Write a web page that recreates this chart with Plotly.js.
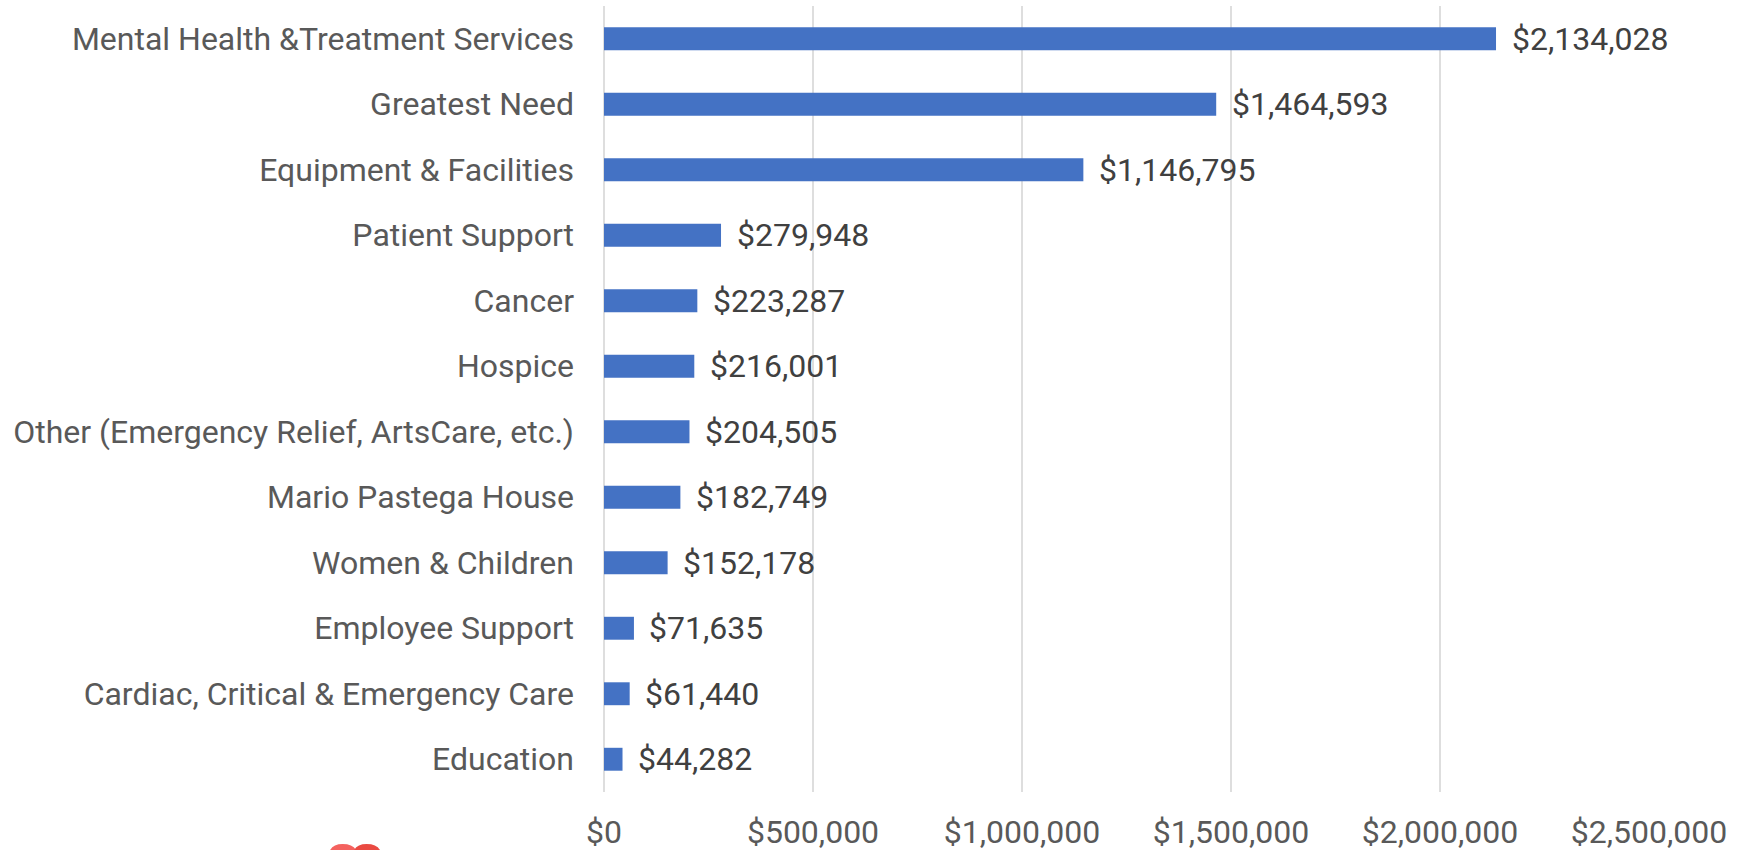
<!DOCTYPE html>
<html><head><meta charset="utf-8">
<script src="https://cdn.plot.ly/plotly-3.0.1.min.js"></script>
<style>html,body{margin:0;padding:0;background:#fff}#c{width:1747px;height:850px}</style>
</head><body><div id="c"></div>
<script>
const categories = ["Mental Health &Treatment Services","Greatest Need","Equipment & Facilities","Patient Support","Cancer","Hospice","Other (Emergency Relief, ArtsCare, etc.)","Mario Pastega House","Women & Children","Employee Support","Cardiac, Critical & Emergency Care","Education"];
const amounts = [2134028,1464593,1146795,279948,223287,216001,204505,182749,152178,71635,61440,44282];
const xTicks = [0,500000,1000000,1500000,2000000,2500000];
const W=1747,H=850,L=603.5,R=1649,T=6,B=792;
const money=v=>'$'+v.toLocaleString('en-US');
const px=x=>((x-L)/(R-L)).toFixed(4), py=y=>((B-y)/(B-T)).toFixed(4);
function lobe(x0,x1,xm){ // heart-logo fragment cut by the bottom edge of the page
  return `M${px(x0)},${py(851)} Q${px(x0+ (xm-x0)*0.25)},${py(844)} ${px(xm)},${py(844)} Q${px(x1-(x1-xm)*0.25)},${py(844)} ${px(x1)},${py(851)} Z`;
}
Plotly.newPlot('c',[{
  type:'bar',orientation:'h',y:categories,x:amounts,width:0.35,
  marker:{color:'#4472C4',line:{width:0}},
  hoverinfo:'skip'
}],{
  width:W,height:H,showlegend:false,paper_bgcolor:'#fff',plot_bgcolor:'#fff',
  margin:{l:L,r:W-R,t:T,b:H-B,pad:0},
  xaxis:{range:[0,2500000],tickvals:xTicks,ticktext:xTicks.map(money),
    showgrid:true,gridcolor:'#DEDEDE',gridwidth:2.5,zeroline:true,zerolinecolor:'#DEDEDE',zerolinewidth:2.5,
    showline:false,ticks:'',tickfont:{family:'Roboto',size:32,color:'#595959'},ticklabelstandoff:18},
  yaxis:{categoryorder:'array',categoryarray:categories,autorange:'reversed',showgrid:false,zeroline:false,showline:false,
    ticks:'',tickfont:{family:'Roboto',size:32,color:'#595959'},ticklabelstandoff:29,automargin:false},
  annotations:amounts.map((v,i)=>({x:v,y:categories[i],xref:'x',yref:'y',text:money(v),showarrow:false,
    xanchor:'left',yanchor:'middle',xshift:13.5,yshift:0,font:{family:'Roboto',size:32,color:'#404040'}})),
  shapes:[
    {type:'path',xref:'paper',yref:'paper',path:lobe(329,356,342),fillcolor:'#F4625F',line:{width:0},layer:'above'},
    {type:'path',xref:'paper',yref:'paper',path:lobe(353,380,366),fillcolor:'#EA4A42',line:{width:0},layer:'above'}
  ]
},{displayModeBar:false,staticPlot:true});
</script></body></html>
